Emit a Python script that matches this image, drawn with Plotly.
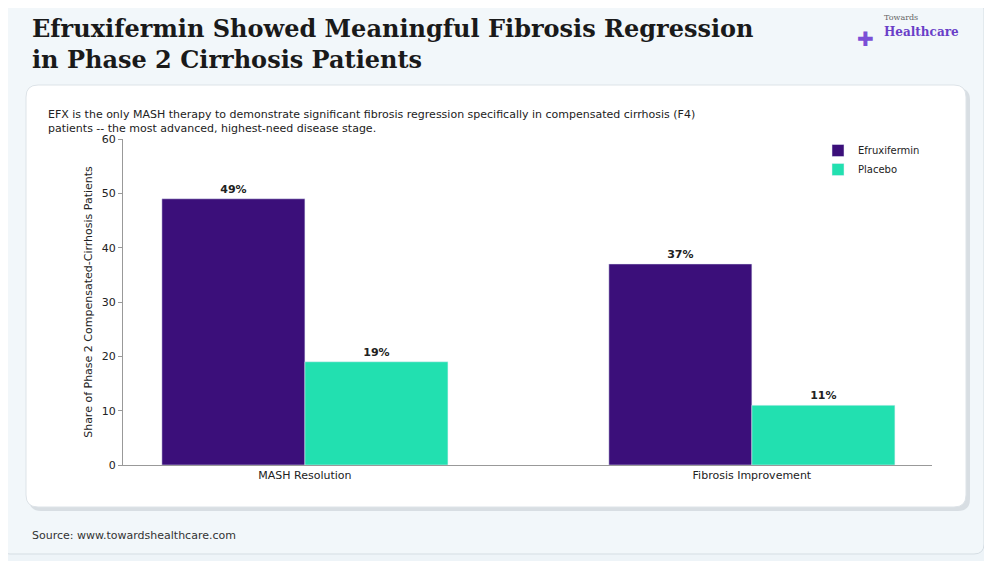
import plotly.graph_objects as go

categories = ["MASH Resolution", "Fibrosis Improvement"]
efx = [49, 37]
placebo = [19, 11]
efx_labels = ["<b>49%</b>", "<b>37%</b>"]
pbo_labels = ["<b>19%</b>", "<b>11%</b>"]

W, H = 992, 561
OFF = 8
L, R, T, B = 123 - OFF, 60 + OFF, 139 - OFF, 96 + OFF
pw, ph = W - L - R, H - T - B
def px(x): return (x - OFF - L) / pw
def py(y): return (H - B - (y - OFF)) / ph

def rrect(x0, y0, x1, y1, r):
    X0, X1 = px(x0), px(x1)
    Y0, Y1 = py(y0), py(y1)
    rx, ry = r / pw, r / ph
    return (f"M{X0+rx},{Y0} L{X1-rx},{Y0} Q{X1},{Y0} {X1},{Y0-ry} L{X1},{Y1+ry} Q{X1},{Y1} {X1-rx},{Y1} "
            f"L{X0+rx},{Y1} Q{X0},{Y1} {X0},{Y1+ry} L{X0},{Y0-ry} Q{X0},{Y0} {X0+rx},{Y0} Z")

fig = go.Figure()
fig.add_bar(x=categories, y=efx, name="Efruxifermin", marker_color="#3b0f7a",
            text=efx_labels, textposition="outside", textfont=dict(size=11, color="#222", family="DejaVu Sans"),
            cliponaxis=False)
fig.add_bar(x=categories, y=placebo, name="Placebo", marker_color="#22e0b0",
            text=pbo_labels, textposition="outside", textfont=dict(size=11, color="#222", family="DejaVu Sans"),
            cliponaxis=False)

shapes = [
    dict(type="path", xref="paper", yref="paper", path=rrect(0, 0, 984, 554, 10),
         fillcolor="#f2f7fa", line=dict(color="#d5dde3", width=1), layer="below"),
    dict(type="path", xref="paper", yref="paper", path=rrect(29, 88, 970, 511, 12),
         fillcolor="#d8dee3", line_width=0, layer="below"),
    dict(type="path", xref="paper", yref="paper", path=rrect(26, 85, 966, 507, 12),
         fillcolor="white", line=dict(color="#dde3e8", width=1), layer="below"),
]

annotations = [
    dict(text="<b>Efruxifermin Showed Meaningful Fibrosis Regression<br>in Phase 2 Cirrhosis Patients</b>",
         x=px(30), y=py(44), xref="paper", yref="paper", xanchor="left", yanchor="middle", align="left",
         showarrow=False, font=dict(family="DejaVu Serif", size=24, color="#1a1a1a")),
    dict(text="EFX is the only MASH therapy to demonstrate significant fibrosis regression specifically in compensated cirrhosis (F4)<br>patients -- the most advanced, highest-need disease stage.",
         x=px(46), y=py(121), xref="paper", yref="paper", xanchor="left", yanchor="middle", align="left",
         showarrow=False, font=dict(family="DejaVu Sans", size=11, color="#222")),
    dict(text="Source: www.towardshealthcare.com", x=px(30), y=py(535), xref="paper", yref="paper",
         xanchor="left", yanchor="middle", showarrow=False, font=dict(family="DejaVu Sans", size=11, color="#333")),
    dict(text="<span style='font-size:8px;color:#666'>Towards</span><br><b>Healthcare</b>", x=px(882), y=py(26),
         xref="paper", yref="paper", xanchor="left", yanchor="middle", align="left", showarrow=False,
         font=dict(family="DejaVu Serif", size=12, color="#6a3fc8")),
    dict(text="✚", x=px(876), y=py(25), xref="paper", yref="paper", showarrow=False,
         font=dict(size=20, color="#7b4fd6")),
]

fig.update_layout(
    width=W, height=H, margin=dict(l=L, r=R, t=T, b=B),
    paper_bgcolor="#eef4f8", plot_bgcolor="rgba(0,0,0,0)",
    barmode="group", bargap=0.36, bargroupgap=0,
    font=dict(family="DejaVu Sans", size=11, color="#222"),
    shapes=shapes, annotations=annotations,
    legend=dict(x=px(818), y=py(136), xanchor="left", yanchor="top", bgcolor="rgba(0,0,0,0)",
                font=dict(size=10), itemwidth=30, tracegroupgap=0),
    xaxis=dict(range=[-0.407, 1.403], showline=True, linecolor="#999", ticks="", showgrid=False),
    yaxis=dict(range=[0, 60], dtick=10, showline=True, linecolor="#999", ticks="outside", ticklen=4,
               tickcolor="#999", showgrid=False, zeroline=False,
               title=dict(text="Share of Phase 2 Compensated-Cirrhosis Patients", font=dict(size=11), standoff=6)),
)
fig.write_html("out.html")
